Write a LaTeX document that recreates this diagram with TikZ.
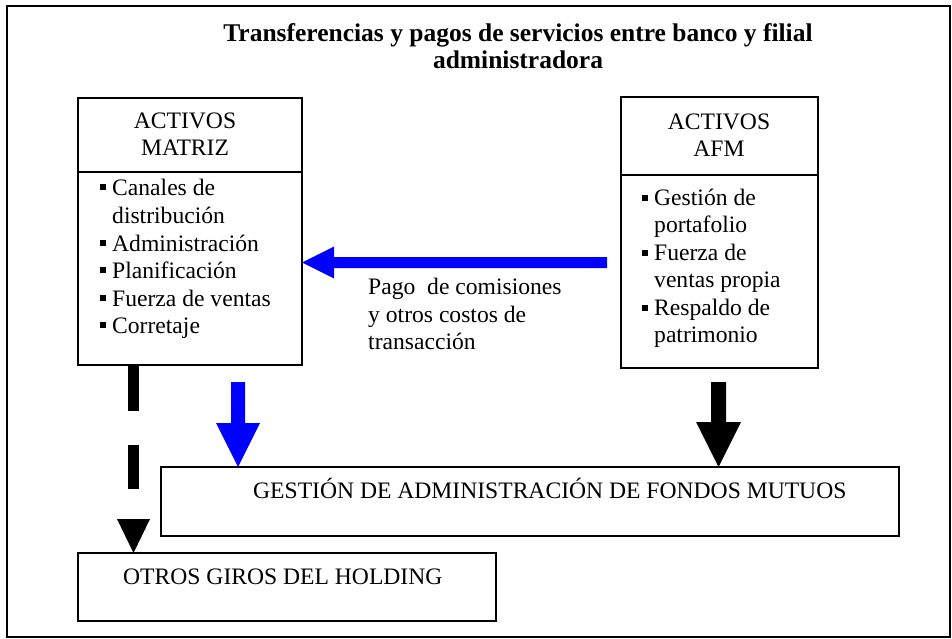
\documentclass[tikz,border=0pt]{standalone}
\usepackage{fontspec}
\setmainfont{Liberation Serif}
\usetikzlibrary{calc}
\newcommand\blkarrow[6]{%
  \coordinate (ba-s) at (#2);
  \coordinate (ba-e) at (#3);
  \coordinate (ba-h) at ($(ba-e)!#6!(ba-s)$);
  \fill[#1] ($(ba-s)!#4!90:(ba-e)$) -- ($(ba-h)!#4!-90:(ba-s)$) -- ($(ba-h)!#5!-90:(ba-s)$) -- (ba-e) -- ($(ba-h)!#5!90:(ba-s)$) -- ($(ba-h)!#4!90:(ba-s)$) -- ($(ba-s)!#4!-90:(ba-e)$) -- cycle;}
\begin{document}
\begin{tikzpicture}[x=1pt,y=-1pt,
  box/.style={draw,line width=1.8pt,rectangle,inner sep=0pt,outer sep=0pt,anchor=north west},
  txt/.style={anchor=base west,inner sep=0pt,font=\fontsize{23.6}{27.6}\selectfont},
  ctxt/.style={anchor=base,inner sep=0pt,font=\fontsize{23.6}{27.6}\selectfont},
  ttl/.style={anchor=base,inner sep=0pt,font=\fontsize{25.5}{29}\selectfont\bfseries},
  bulsq/.style={fill=black}
]
\useasboundingbox (0,0) rectangle (952,639);
\node[box,minimum width=943pt,minimum height=631pt] (frame) at (7,6) {};
% title
\node[ttl] (t1) at (518,42) {Transferencias y pagos de servicios entre banco y filial};
\node[ttl] (t2) at (518,69) {administradora};
% boxes
\node[box,minimum width=224pt,minimum height=74pt] (matrizh) at (78,98) {};
\node[box,minimum width=224pt,minimum height=193pt] (matrizb) at (78,172) {};
\node[box,minimum width=197pt,minimum height=78pt] (afmh) at (621,97) {};
\node[box,minimum width=197pt,minimum height=193pt] (afmb) at (621,175) {};
\node[box,minimum width=738pt,minimum height=69pt] (gestion) at (161,467) {};
\node[box,minimum width=418pt,minimum height=68pt] (otros) at (78,553) {};
% header texts
\node[ctxt] (mh1) at (185,129) {ACTIVOS};
\node[ctxt] (mh2) at (185,156) {MATRIZ};
\node[ctxt] (ah1) at (719,130) {ACTIVOS};
\node[ctxt] (ah2) at (719,157) {AFM};
% matriz list
\node[txt] (m1) at (112,195) {Canales de};
\node[txt] (m2) at (112,223) {distribución};
\node[txt] (m3) at (112,251) {Administración};
\node[txt] (m4) at (112,278) {Planificación};
\node[txt] (m5) at (112,306) {Fuerza de ventas};
\node[txt] (m6) at (112,333) {Corretaje};
\foreach \b in {195,251,278,306,333} {\fill[bulsq] (99.5,\b-11) rectangle (105.5,\b-5);}
% afm list
\node[txt] (a1) at (654,205) {Gestión de};
\node[txt] (a2) at (654,232) {portafolio};
\node[txt] (a3) at (654,260) {Fuerza de};
\node[txt] (a4) at (654,287) {ventas propia};
\node[txt] (a5) at (654,315) {Respaldo de};
\node[txt] (a6) at (654,342) {patrimonio};
\foreach \b in {205,260,315} {\fill[bulsq] (641.5,\b-10) rectangle (647.5,\b-4);}
% label
\node[txt] (p1) at (368,294) {Pago\ \ de comisiones};
\node[txt] (p2) at (368,322) {y otros costos de};
\node[txt] (p3) at (368,349) {transacción};
% bottom box texts
\node[txt] (gt) at (253,498) {GESTIÓN DE ADMINISTRACIÓN DE FONDOS MUTUOS};
\node[txt] (ot) at (123,584) {OTROS GIROS DEL HOLDING};
% arrows
\coordinate (bls) at (607,262.5);
\blkarrow{blue}{bls}{matrizb.east |- bls}{5.5pt}{16pt}{32pt}
\coordinate (bds) at (238,382);
\blkarrow{blue}{bds}{bds |- gestion.north}{7pt}{22pt}{44pt}
\coordinate (kds) at (718.5,382);
\blkarrow{black}{kds}{kds |- gestion.north}{7.5pt}{22.5pt}{45pt}
% dashed arrow
\coordinate (dx) at (133.5,0);
\coordinate (dhead) at ($(dx |- otros.north)+(0,-34)$);
\draw[line width=11pt,dash pattern=on 46pt off 34pt] (dx |- matrizb.south) -- ($(dhead)+(0,-30)$);
\fill (dx |- otros.north) -- ($(dhead)+(-16.5,0)$) -- ($(dhead)+(16.5,0)$) -- cycle;
\end{tikzpicture}
\end{document}
